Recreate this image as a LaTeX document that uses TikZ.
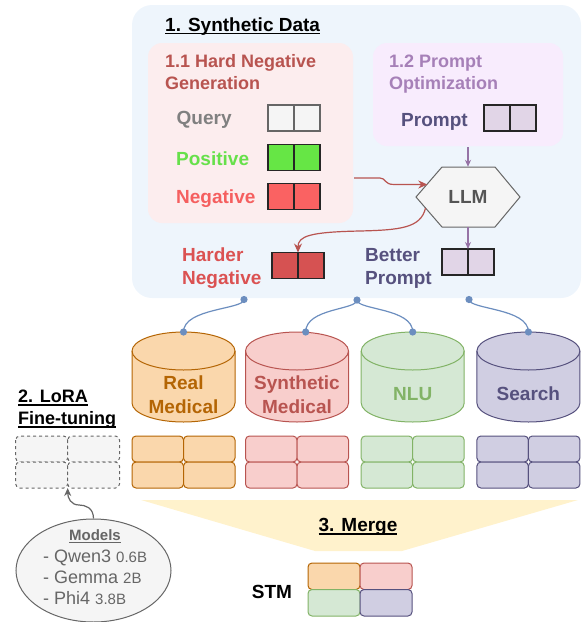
\documentclass[tikz,border=0pt]{standalone}
\usepackage{fontspec}
\setmainfont{Liberation Sans}
\usetikzlibrary{arrows.meta,calc,shapes.geometric}
\definecolor{bgBlue}{HTML}{EEF5FC}
\definecolor{bgPink}{HTML}{FCEDEE}
\definecolor{bgPurple}{HTML}{F8ECFD}
\definecolor{cRed}{HTML}{B85450}
\definecolor{cPurT}{HTML}{A680B8}
\definecolor{cPur}{HTML}{9673A6}
\definecolor{cNavy}{HTML}{56517E}
\definecolor{cGrayT}{HTML}{808080}
\definecolor{cGray}{HTML}{666666}
\definecolor{cGrayD}{HTML}{555555}
\definecolor{cLight}{HTML}{F5F5F5}
\definecolor{cGreenT}{HTML}{66E04A}
\definecolor{cGreen}{HTML}{66E645}
\definecolor{cNegT}{HTML}{F55F5F}
\definecolor{cNeg}{HTML}{FA6262}
\definecolor{cHard}{HTML}{D65252}
\definecolor{cHardT}{HTML}{DB5252}
\definecolor{cLav}{HTML}{E1D5E7}
\definecolor{cBlue}{HTML}{6C8EBF}
\definecolor{oFill}{HTML}{FAD7AC}
\definecolor{oLine}{HTML}{B46504}
\definecolor{rFill}{HTML}{F8CECC}
\definecolor{rLine}{HTML}{B85450}
\definecolor{gFill}{HTML}{D5E8D4}
\definecolor{gLine}{HTML}{82B366}
\definecolor{pFill}{HTML}{D0CEE2}
\definecolor{pLine}{HTML}{56517E}
\definecolor{cMerge}{HTML}{FFF2CC}
\newcommand\myul[1]{\setbox0\hbox{#1}\rlap{\rule[-3pt]{\wd0}{1.4pt}}\box0}
\newcommand\cylinderat[4]{%
  \filldraw[fill=#3, draw=#4, line width=1pt]
    (#2-51.5,351) -- (#2-51.5,403) arc[start angle=180, end angle=0, x radius=51.5, y radius=19]
    -- (#2+51.5,351) arc[start angle=0, end angle=-180, x radius=51.5, y radius=19] -- cycle;
  \draw[draw=#4, line width=1pt] (#2-51.5,351) arc[start angle=180, end angle=0, x radius=51.5, y radius=19];
  \coordinate (#1) at (#2,332);}
\newcommand\gridat[4]{%
  \begin{scope}[fill=#3, draw=#4, line width=1pt, rounded corners=4pt]
    \filldraw (#2-51.5,436) rectangle (#2,462);
    \filldraw (#2,436) rectangle (#2+51.5,462);
    \filldraw (#2-51.5,462) rectangle (#2,488);
    \filldraw (#2,462) rectangle (#2+51.5,488);
  \end{scope}
  \coordinate (#1) at (#2,462);}
\begin{document}
\begin{tikzpicture}[x=1pt,y=-1pt,
  lab/.style={inner sep=0pt, font=\fontsize{19}{23}\selectfont\bfseries},
  sub/.style={inner sep=0pt, font=\fontsize{18}{22}\selectfont\bfseries},
  cell/.style={draw, line width=1.3pt, minimum width=26pt, minimum height=26pt, inner sep=0pt, outer sep=0pt},
  region/.style={rounded corners=14pt, inner sep=0pt, outer sep=0pt},
  redarr/.style={draw=cRed, line width=1.2pt, -{Stealth[length=9pt,width=8pt]}},
  purarr/.style={draw=cPur, line width=1.2pt, -{Stealth[length=7pt,width=6pt]}},
  bluelink/.style={draw=cBlue, line width=1.2pt},
  bluedot/.style={fill=cBlue}]
\useasboundingbox (0,0) rectangle (583,622);

% ---- 1. Synthetic data region
\node[region, rounded corners=20pt, fill=bgBlue, minimum width=449pt, minimum height=293pt] (synth) at (356.5,151.5) {};
\node[lab, anchor=base west] (t1) at (165,31) {\myul{1. Synthetic Data}};

\node[region, fill=bgPink, minimum width=205pt, minimum height=180pt] (hn) at (250.5,133) {};
\node[sub, anchor=base west, text=cRed] (hn1) at (165,67) {1.1 Hard Negative};
\node[sub, anchor=base west, text=cRed] (hn2) at (165,89) {Generation};

\node[region, fill=bgPurple, minimum width=190pt, minimum height=103pt] (po) at (468,94.5) {};
\node[sub, anchor=base west, text=cPurT] (po1) at (389,67) {1.2 Prompt};
\node[sub, anchor=base west, text=cPurT] (po2) at (389,89) {Optimization};

% labels and cells
\node[lab, anchor=base west, text=cGrayT] (ql) at (176.5,124.5) {Query};
\node[cell, fill=cLight, draw=cGray] (qa) at (281,118) {};
\node[cell, fill=cLight, draw=cGray] (qb) at (307,118) {};

\node[lab, anchor=base west, text=cGreenT] (pl) at (176,165.5) {Positive};
\node[cell, fill=cGreen, draw=black!85] (pa) at (281,157.5) {};
\node[cell, fill=cGreen, draw=black!85] (pb) at (307,157.5) {};

\node[lab, anchor=base west, text=cNegT] (nl) at (176,203.5) {Negative};
\node[cell, fill=cNeg, draw=black!85] (na) at (281,196.5) {};
\node[cell, fill=cNeg, draw=black!85] (nb) at (307,196.5) {};

\node[lab, anchor=base west, text=cNavy] (prl) at (401,126.5) {Prompt};
\node[cell, fill=cLav, draw=black!85] (pra) at (497,118) {};
\node[cell, fill=cLav, draw=black!85] (prb) at (523,118) {};

% LLM hexagon
\filldraw[fill=cLight, draw=cGray, line width=1pt]
  (416,197) -- (442,167) -- (495,167) -- (520,197) -- (495,227) -- (442,227) -- cycle;
\node[lab, text=cGrayD, minimum width=104pt, minimum height=60pt] (llm) at (468,197) {LLM};
\coordinate (llmin) at (427.3,184.5);
\coordinate (llmout) at (425.5,208);
\coordinate (hnout) at (354,178);

% outputs
\node[lab, anchor=base west, text=cHardT] (hl1) at (182,261.5) {Harder};
\node[lab, anchor=base west, text=cHardT] (hl2) at (182,284.5) {Negative};
\node[cell, fill=cHard, draw=black!85] (ha) at (285,265.5) {};
\node[cell, fill=cHard, draw=black!85] (hb) at (311,265.5) {};

\node[lab, anchor=base west, text=cNavy] (bl1) at (365,261.5) {Better};
\node[lab, anchor=base west, text=cNavy] (bl2) at (365,284.5) {Prompt};
\node[cell, fill=cLav, draw=black!85] (ba) at (455,262) {};
\node[cell, fill=cLav, draw=black!85] (bb) at (481,262) {};

% arrows
\coordinate (poout) at (468,147);
\draw[purarr] (poout) -- (llm.north);
\draw[purarr] (llm.south) -- (ba.north east);
\draw[redarr] (hnout) -- (380,178) .. controls (386,178) and (384,184.5) .. (394,184.5) -- (llmin);
\draw[redarr] (llmout) .. controls (421,228) and (400,230) .. (360,231) .. controls (310,232) and (298,236) .. (ha.north east);

% ---- datasets
\cylinderat{c1}{183.5}{oFill}{oLine}
\cylinderat{c2}{297}{rFill}{rLine}
\cylinderat{c3}{412.7}{gFill}{gLine}
\cylinderat{c4}{528.4}{pFill}{pLine}
\coordinate (c2in) at (305.7,332);

\node[lab, anchor=base, text=oLine] (rm1) at (183.5,389.5) {Real};
\node[lab, anchor=base, text=oLine] (rm2) at (183.5,413.5) {Medical};
\node[lab, anchor=base, text=rLine] (sm1) at (297,389.5) {Synthetic};
\node[lab, anchor=base, text=rLine] (sm2) at (297,413.5) {Medical};
\node[lab, anchor=base, text=gLine] (nlu) at (412.7,400.7) {NLU};
\node[lab, anchor=base, text=pLine] (srch) at (528.4,400.7) {Search};

\coordinate (s1) at (244,299.5);
\coordinate (s2) at (357,300);
\coordinate (s3) at (469,299.5);
\draw[bluelink] (s1) .. controls +(0,10) and +(0,-24) .. (c1);
\draw[bluelink] (s2) .. controls +(0,10) and +(0,-24) .. (c2in);
\draw[bluelink] (s2) .. controls +(0,10) and +(0,-24) .. (c3);
\draw[bluelink] (s3) .. controls +(0,10) and +(0,-24) .. (c4);
\foreach \p in {s1,s2,s3,c1,c2in,c3,c4} \fill[bluedot] (\p) circle[radius=3.6pt];

% ---- LoRA grids
\gridat{g1}{183.5}{oFill}{oLine}
\gridat{g2}{297}{rFill}{rLine}
\gridat{g3}{412.7}{gFill}{gLine}
\gridat{g4}{528.4}{pFill}{pLine}

\node[sub, anchor=base west] (lo1) at (18,402.5) {\myul{2. LoRA}};
\node[sub, anchor=base west] (lo2) at (18,424.5) {\myul{Fine-tuning}};
\begin{scope}[fill=cLight, draw=cGray, line width=1pt, dashed, rounded corners=4pt]
  \filldraw (15.7,436) rectangle (67.7,462);
  \filldraw (67.7,436) rectangle (119.5,462);
  \filldraw (15.7,462) rectangle (67.7,488);
  \filldraw (67.7,462) rectangle (119.5,488);
\end{scope}
\coordinate (lora) at (67.7,488);

% ---- models
\node[ellipse, draw=cGray, fill=cLight, line width=1pt, minimum width=155pt, minimum height=103pt, inner sep=0pt] (models) at (93.5,570.5) {};
\draw[draw=cGray, line width=1.2pt, -{Stealth[length=8pt,width=7pt]}] (models.north) .. controls +(0,-11) and +(6,0) .. (79,505) .. controls +(-8,0) and +(0,10) .. (lora);
\node[inner sep=0pt, anchor=base, text=cGray, font=\fontsize{15}{18}\selectfont\bfseries] (mt) at (95,540) {\myul{Models}};
\node[inner sep=0pt, anchor=base west, text=cGray, font=\fontsize{18}{22}\selectfont] (m1) at (43,562) {- Qwen3 {\fontsize{15}{18}\selectfont 0.6B}};
\node[inner sep=0pt, anchor=base west, text=cGray, font=\fontsize{18}{22}\selectfont] (m2) at (43,583) {- Gemma {\fontsize{15}{18}\selectfont 2B}};
\node[inner sep=0pt, anchor=base west, text=cGray, font=\fontsize{18}{22}\selectfont] (m3) at (43,604) {- Phi4 {\fontsize{15}{18}\selectfont 3.8B}};

% ---- merge
\fill[cMerge] (141,500) -- (578,500) -- (402,551) -- (315,551) -- cycle;
\node[lab, anchor=base] (merge) at (358,531.7) {\myul{3. Merge}};
\node[lab, anchor=base] (stm) at (272,598.3) {STM};
\begin{scope}[line width=1pt, rounded corners=4pt]
  \filldraw[fill=oFill, draw=oLine] (308,563) rectangle (360,589.5);
  \filldraw[fill=rFill, draw=rLine] (360,563) rectangle (412,589.5);
  \filldraw[fill=gFill, draw=gLine] (308,589.5) rectangle (360,616);
  \filldraw[fill=pFill, draw=pLine] (360,589.5) rectangle (412,616);
\end{scope}
\end{tikzpicture}
\end{document}
